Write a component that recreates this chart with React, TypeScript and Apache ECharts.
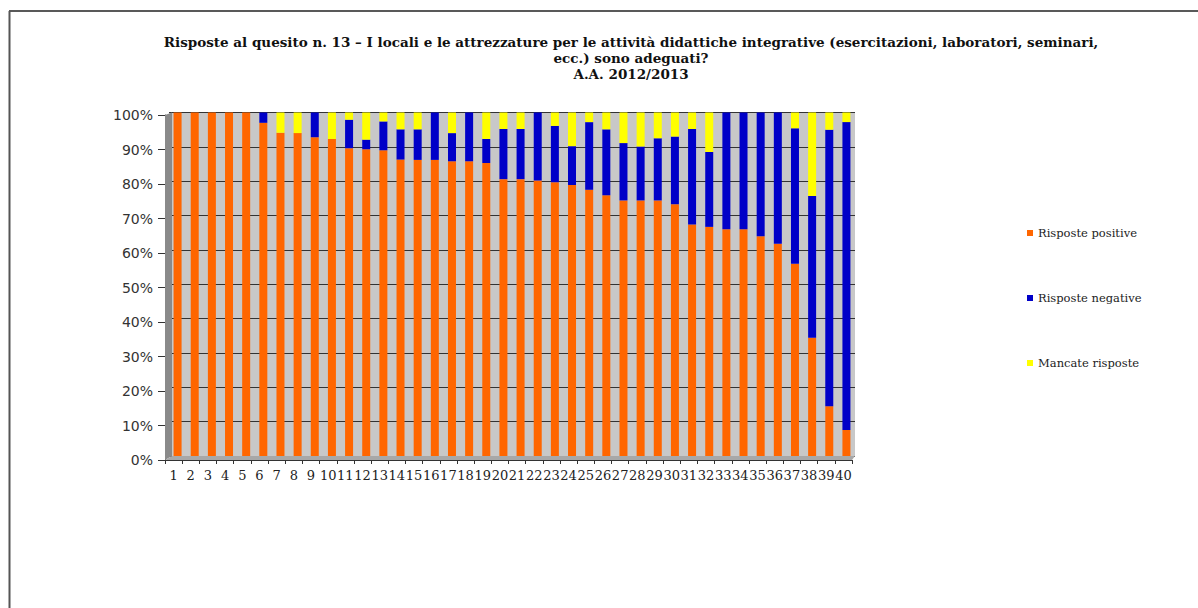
import React, { useEffect, useRef } from 'react';
import * as echarts from 'echarts';

const categories = ['1','2','3','4','5','6','7','8','9','10','11','12','13','14','15','16','17','18','19','20','21','22','23','24','25','26','27','28','29','30','31','32','33','34','35','36','37','38','39','40'];

const positive = [100, 100, 100, 100, 100, 97.0, 94.1, 94.0, 92.8, 92.3, 89.6, 89.3, 89.0, 86.3, 86.2, 86.2, 85.8, 85.8, 85.3, 80.6, 80.6, 80.2, 79.7, 78.9, 77.5, 75.9, 74.4, 74.4, 74.4, 73.3, 67.4, 66.7, 66.0, 66.0, 64.0, 61.8, 56.0, 34.4, 14.5, 7.6];
const negative = [0, 0, 0, 0, 0, 3.0, 0, 0, 7.2, 0, 8.3, 2.8, 8.4, 8.8, 8.9, 13.8, 8.2, 14.2, 7.0, 14.6, 14.6, 19.8, 16.4, 11.3, 19.7, 19.2, 16.7, 15.7, 18.1, 19.7, 27.8, 21.8, 34.0, 34.0, 36.0, 38.2, 39.4, 41.3, 80.5, 89.6];
const missing = [0, 0, 0, 0, 0, 0, 5.9, 6.0, 0, 7.7, 2.1, 7.9, 2.6, 4.9, 4.9, 0, 6.0, 0, 7.7, 4.8, 4.8, 0, 3.9, 9.8, 2.8, 4.9, 8.9, 9.9, 7.5, 7.0, 4.8, 11.5, 0, 0, 0, 0, 4.6, 24.3, 5.0, 2.8];

const seriesNames = ['Risposte positive', 'Risposte negative', 'Mancate risposte'];
const seriesColors = ['#ff6600', '#0000c8', '#ffff00'];
const titleLines = [
  'Risposte al quesito n. 13 \u2013 I locali e le attrezzature per le attivit\u00e0 didattiche integrative (esercitazioni, laboratori, seminari,',
  'ecc.) sono adeguati?',
  'A.A. 2012/2013',
];

export default function App() {
  const ref = useRef<HTMLDivElement>(null);
  useEffect(() => {
    if (!ref.current) return;
    const chart = echarts.init(ref.current, undefined, { renderer: 'svg' });
    const values = [positive, negative, missing];
    chart.setOption({
      animation: false,
      backgroundColor: '#ffffff',
      legend: {
        orient: 'vertical',
        left: 1022,
        top: 221.5,
        itemGap: 52,
        itemWidth: 6,
        itemHeight: 6,
        icon: 'rect',
        data: seriesNames,
        textStyle: { fontFamily: 'DejaVu Serif', fontSize: 11.5, color: '#222', lineHeight: 13 },
      },
      grid: [
        { left: 169, top: 112.5, width: 686, height: 343.5, show: true, backgroundColor: '#c8c8c8', borderWidth: 0, containLabel: false },
        { left: 165, top: 115, width: 687, height: 345, show: false, containLabel: false },
      ],
      xAxis: [
        {
          type: 'category', gridIndex: 0, data: categories,
          axisLine: { show: false }, axisTick: { show: false }, axisLabel: { show: false }, splitLine: { show: false },
        },
        {
          type: 'category', gridIndex: 1, data: categories,
          axisLine: { show: true, lineStyle: { color: '#333', width: 1 } },
          axisTick: { show: true, length: 4, lineStyle: { color: '#333' } },
          axisLabel: { show: true, interval: 0, margin: 9, fontFamily: 'DejaVu Serif', fontSize: 13, color: '#222' },
          splitLine: { show: false },
        },
      ],
      yAxis: [
        {
          type: 'value', gridIndex: 0, min: 0, max: 100, interval: 10,
          axisLine: { show: false }, axisTick: { show: false }, axisLabel: { show: false },
          splitLine: { show: true, lineStyle: { color: '#333', width: 1 } },
        },
        {
          type: 'value', gridIndex: 1, min: 0, max: 100, interval: 10,
          axisLine: { show: true, lineStyle: { color: '#333', width: 1 } },
          axisTick: { show: true, length: 7, lineStyle: { color: '#333' } },
          axisLabel: { show: true, margin: 12, formatter: '{value}%', fontFamily: 'DejaVu Sans', fontSize: 14, color: '#333' },
          splitLine: { show: false },
        },
      ],
      series: seriesNames.map((name, i) => ({
        name,
        type: 'bar',
        stack: 'total',
        xAxisIndex: 0,
        yAxisIndex: 0,
        barWidth: 8,
        itemStyle: { color: seriesColors[i] },
        emphasis: { disabled: true },
        data: values[i],
      })),
      graphic: [
        { type: 'line', z: 10, shape: { x1: 9, y1: 11, x2: 1198, y2: 11 }, style: { stroke: '#222', lineWidth: 1.5 } },
        { type: 'line', z: 10, shape: { x1: 9.5, y1: 11, x2: 9.5, y2: 608 }, style: { stroke: '#555', lineWidth: 2 } },
        { type: 'polygon', z: 1, shape: { points: [[165, 115], [172, 112.5], [172, 456], [165, 460]] }, style: { fill: '#8a8a8a' } },
        { type: 'polygon', z: 1, shape: { points: [[165, 460], [172, 456], [855, 456], [852, 460]] }, style: { fill: '#a8a8a8' } },
        {
          type: 'text', z: 10, x: 631, y: 34,
          style: {
            text: titleLines.join('\n'),
            textAlign: 'center',
            fontFamily: 'DejaVu Serif',
            fontWeight: 'bold',
            fontSize: 13.5,
            lineHeight: 16,
            fill: '#111',
          },
        },
      ],
    });
    return () => chart.dispose();
  }, []);
  return <div ref={ref} style={{ position: 'absolute', left: 0, top: 0, width: 1198, height: 608 }} />;
}
